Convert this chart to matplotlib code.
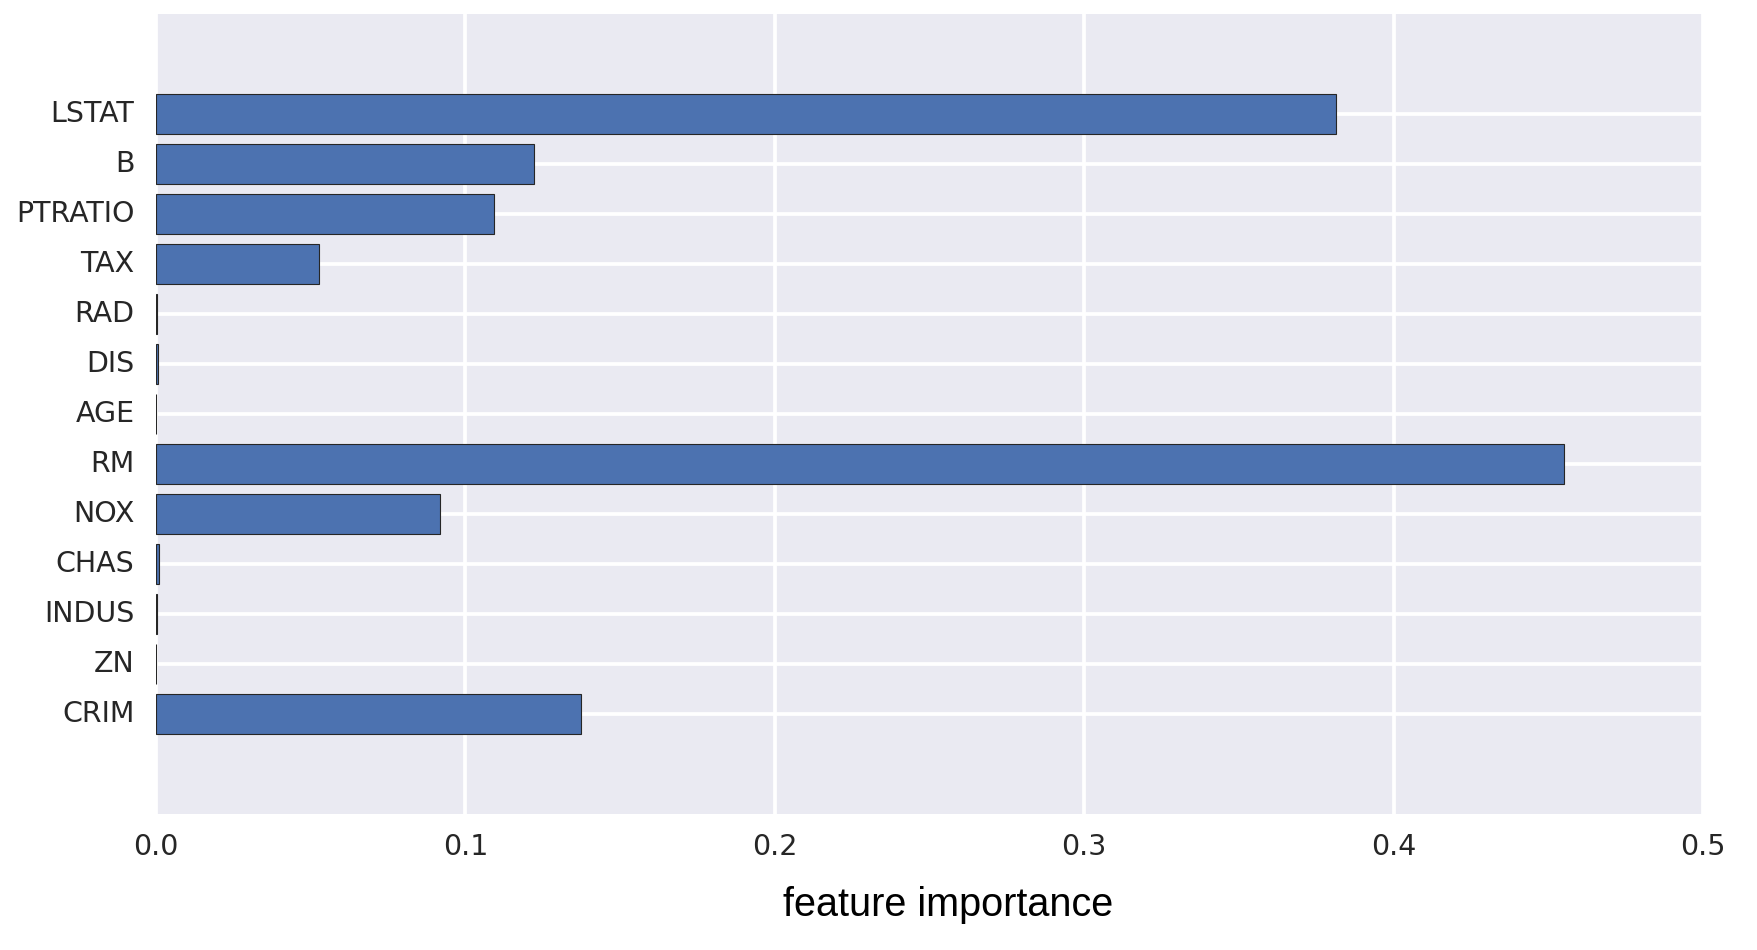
"""Boston housing: decision tree feature importances (horizontal bars)."""
import numpy as np
import matplotlib
matplotlib.use('Agg')
import matplotlib.pyplot as plt
import matplotlib.transforms as mtransforms
import seaborn as sns

sns.set_style('darkgrid')
plt.rcParams['font.family'] = ['DejaVu Sans']

features = ['CRIM', 'ZN', 'INDUS', 'CHAS', 'NOX', 'RM', 'AGE',
            'DIS', 'RAD', 'TAX', 'PTRATIO', 'B', 'LSTAT']
importance = [0.1375, 0.0, 0.0002, 0.0011, 0.0919, 0.455, 0.0,
              0.0005, 0.0002, 0.0528, 0.1091, 0.1221, 0.3813]
x_ticks = [0.0, 0.1, 0.2, 0.3, 0.4, 0.5]

fig = plt.figure(figsize=(17.57, 9.5), dpi=100)
ax = fig.add_axes([156 / 1757, 1 - 813.7 / 950, (1703 - 156) / 1757, (813.7 - 14) / 950])

pos = np.arange(len(features))
ax.barh(pos, importance, height=0.8, align='center', color='#4C72B0',
        edgecolor='#262626', linewidth=0.8, zorder=2)

ax.set_yticks(pos)
ax.set_yticklabels(features)
ax.set_ylim(-2, 14)
ax.set_xlim(0, 0.5)
ax.set_xticks(x_ticks)
ax.set_xticklabels([f'{v:.1f}' for v in x_ticks])
ax.grid(True, color='white', linewidth=2.7, zorder=1)
ax.set_axisbelow(True)
for s in ax.spines.values():
    s.set_visible(False)
ax.tick_params(axis='both', length=0, labelsize=20.5, colors='#262626')
ax.tick_params(axis='x', pad=14)
ax.tick_params(axis='y', pad=15.5)

# nudge y labels up a little, like the reference
shift = mtransforms.ScaledTranslation(0, 0.025, fig.dpi_scale_trans)
for lab in ax.get_yticklabels():
    lab.set_transform(lab.get_transform() + shift)

ax.set_xlabel('feature importance', fontsize=28.5, color='black',
              family=['Liberation Sans', 'DejaVu Sans'])
ax.xaxis.set_label_coords((948 - 156) / (1703 - 156), -0.090)

fig.savefig('out.png', dpi=100)
plt.close(fig)
print('out.png saved')
